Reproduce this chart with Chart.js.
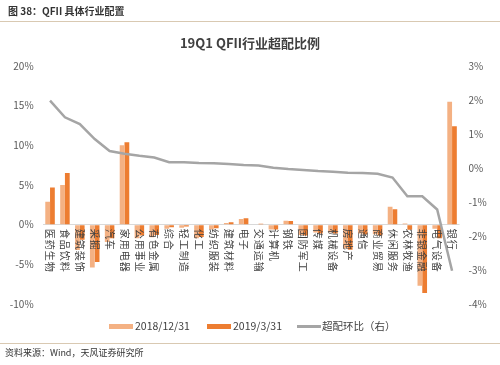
<!DOCTYPE html>
<html><head><meta charset="utf-8">
<script src="https://cdn.jsdelivr.net/npm/chart.js@4.4.0/dist/chart.umd.min.js"></script>
<style>
html,body{margin:0;padding:0;background:#fff;}
#wrap{position:relative;width:500px;height:365px;overflow:hidden;font-family:"Noto Sans CJK SC","Noto Sans",sans-serif;color:#404040;}
#c{position:absolute;left:0;top:0;}
.abs{position:absolute;white-space:nowrap;}
.hdr{left:8px;top:3px;font-size:10px;font-weight:bold;color:#333;}
.hline{left:0;width:500px;top:21px;height:0;border-top:1.5px solid #D9C9B2;}
.title{left:0;width:500px;top:33px;text-align:center;font-size:13px;font-weight:bold;color:#404040;}
.lg{top:319px;font-size:10.5px;line-height:14px;color:#404040;}
.sw{top:324px;height:5px;width:24px;}
.fline{left:0;width:500px;top:343px;height:0;border-top:1px solid #D9C9B2;}
.footer{left:5px;top:346px;font-size:9px;color:#333;}
</style>
</head><body>
<div id="wrap">
<canvas id="c" width="500" height="365"></canvas>
<div class="abs hdr">图 38：QFII 具体行业配置</div>
<div class="abs hline"></div>
<div class="abs title">19Q1 QFII行业超配比例</div>
<div class="abs sw" style="left:109px;background:#F4B183;"></div>
<div class="abs lg" style="left:135px;">2018/12/31</div>
<div class="abs sw" style="left:207px;background:#ED7D31;"></div>
<div class="abs lg" style="left:233px;">2019/3/31</div>
<div class="abs sw" style="left:297px;top:325px;height:2.5px;background:#A5A5A5;"></div>
<div class="abs lg" style="left:322px;">超配环比（右）</div>
<div class="abs fline"></div>
<div class="abs footer">资料来源：Wind，天风证券研究所</div>
</div>
<script>
const categories = ["医药生物","食品饮料","建筑装饰","采掘","汽车","家用电器","公用事业","有色金属","综合","轻工制造","化工","纺织服装","建筑材料","电子","交通运输","计算机","钢铁","国防军工","传媒","机械设备","房地产","通信","商业贸易","休闲服务","农林牧渔","非银金融","电气设备","银行"];
const s20181231 = [2.9,5.0,-3.2,-5.4,-2.2,10.0,-1.7,-1.6,-0.5,-0.4,-1.7,-0.6,0.2,0.7,0.05,-0.6,0.5,-1.3,-1.0,-1.0,-3.0,-1.1,-1.2,2.25,0.15,-7.7,-0.5,15.5];
const s20190331 = [4.7,6.5,-1.9,-4.7,-1.7,10.4,-1.35,-1.3,-0.33,-0.23,-1.55,-0.45,0.32,0.8,0.12,-0.6,0.47,-1.36,-1.1,-1.1,-3.15,-1.25,-1.37,1.95,-0.65,-8.6,-1.7,12.4];
const changeRight = [1.98,1.49,1.29,0.85,0.5,0.42,0.36,0.31,0.17,0.17,0.15,0.14,0.12,0.09,0.07,0.01,-0.03,-0.06,-0.09,-0.11,-0.14,-0.15,-0.17,-0.28,-0.83,-0.83,-1.22,-3.02];
const leftTicks = {min:-10,max:20,step:5};
const rightTicks = {min:-4,max:3,step:1};

const FONT = '"Noto Sans CJK SC","Noto Sans",sans-serif';
Chart.defaults.font.family = FONT;
Chart.defaults.font.size = 10;
Chart.defaults.color = '#595959';

const xLabelPlugin = {
  id:'xlabels',
  afterDraw(chart){
    const ctx = chart.ctx, xs = chart.scales.x, ys = chart.scales.y;
    const y0 = ys.getPixelForValue(0) + 4;
    ctx.save();
    ctx.fillStyle = '#404040';
    ctx.font = '10px ' + FONT;
    ctx.textAlign = 'left';
    ctx.textBaseline = 'middle';
    categories.forEach((lab,i)=>{
      const x = xs.getPixelForValue(i);
      ctx.save();
      ctx.translate(x, y0);
      ctx.rotate(Math.PI/2);
      [...lab].forEach((ch,k)=>ctx.fillText(ch, k*11, 0));
      ctx.restore();
    });
    ctx.restore();
  }
};

new Chart(document.getElementById('c'), {
  type:'bar',
  data:{
    labels: categories,
    datasets:[
      {type:'line', label:'超配环比（右）', data:changeRight, yAxisID:'y1', borderColor:'#A5A5A5', borderWidth:2.5, pointRadius:0, tension:0, fill:false, order:0},
      {label:'2018/12/31', data:s20181231, yAxisID:'y', backgroundColor:'#F4B183', categoryPercentage:0.64, barPercentage:1.0, order:1},
      {label:'2019/3/31', data:s20190331, yAxisID:'y', backgroundColor:'#ED7D31', categoryPercentage:0.64, barPercentage:1.0, order:1}
    ]
  },
  options:{
    responsive:false, animation:false,
    layout:{padding:{top:66,bottom:61,left:0,right:0}},
    plugins:{legend:{display:false}, tooltip:{enabled:false}, title:{display:false}},
    scales:{
      x:{display:false, offset:true, grid:{display:false}},
      y:{position:'left', min:leftTicks.min, max:leftTicks.max,
         ticks:{stepSize:leftTicks.step, padding:9, callback:v=>v+'%', color:'#595959', font:{size:10}},
         grid:{drawTicks:false, color:c=>c.tick && c.tick.value===0 ? '#D9D9D9' : 'rgba(0,0,0,0)', lineWidth:1},
         border:{display:false},
         afterFit:s=>{s.width=42.6;}},
      y1:{position:'right', min:rightTicks.min, max:rightTicks.max,
         ticks:{stepSize:rightTicks.step, padding:9, callback:v=>v+'%', color:'#595959', font:{size:10}},
         grid:{drawOnChartArea:false, drawTicks:false},
         border:{display:false},
         afterFit:s=>{s.width=40.5;}}
    }
  },
  plugins:[xLabelPlugin]
});
</script>
</body></html>
